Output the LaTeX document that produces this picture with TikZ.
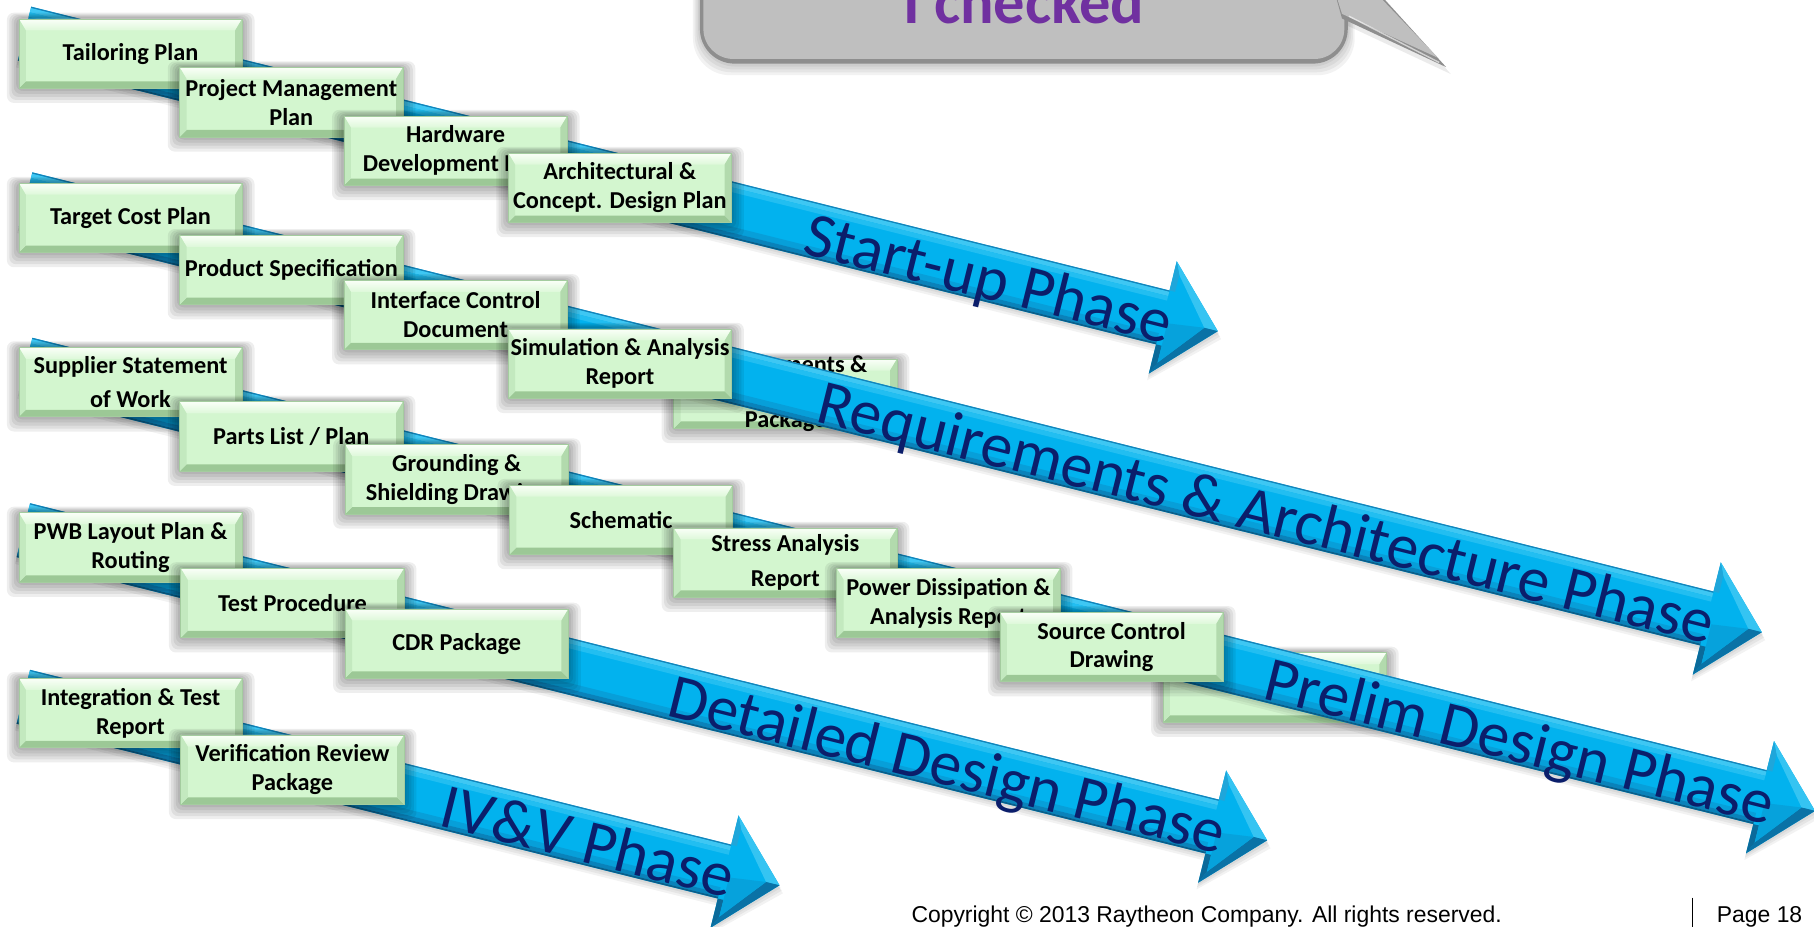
\documentclass[tikz,border=0pt]{standalone}
\usepackage{fontspec}
\setmainfont{Carlito}
\newfontfamily\arialf{Liberation Sans}
\definecolor{face}{HTML}{D3F6CF}
\definecolor{bvtopa}{HTML}{FAFFF8}
\definecolor{bvtopb}{HTML}{DDF8D9}
\definecolor{bvbot}{HTML}{9CC896}
\definecolor{bvleft}{HTML}{C3E9BF}
\definecolor{bvright}{HTML}{B2DAAD}
\definecolor{bxline}{HTML}{A4CC9F}
\definecolor{amain}{HTML}{02B2EE}
\definecolor{aedge}{HTML}{1683B8}
\definecolor{ahia}{HTML}{3EC7F3}
\definecolor{ahib}{HTML}{22BEF1}
\definecolor{alowa}{HTML}{079FD9}
\definecolor{alowb}{HTML}{0A82BA}
\definecolor{alowc}{HTML}{0B5E8A}
\definecolor{ahl}{HTML}{35C4F2}
\definecolor{adk}{HTML}{0A72A6}
\definecolor{amid}{HTML}{06A2DC}
\definecolor{abka}{HTML}{1FA6DA}
\definecolor{abkb}{HTML}{0B6A9A}
\definecolor{navy}{HTML}{0B1E6B}
\definecolor{bubble}{HTML}{BFBFBF}
\definecolor{bubbleedge}{HTML}{8E8E8E}
\definecolor{purpl}{HTML}{7030A0}

\newcommand\bevel{%
 \path (path picture bounding box.north west) coordinate (pNW)
       (path picture bounding box.north east) coordinate (pNE)
       (path picture bounding box.south west) coordinate (pSW)
       (path picture bounding box.south east) coordinate (pSE);
 \shade[top color=bvtopa, bottom color=bvtopb] (pNW) -- (pNE) -- ([shift={(-3pt,-5pt)}]pNE) -- ([shift={(3pt,-5pt)}]pNW) -- cycle;
 \fill[bvbot] (pSW) -- (pSE) -- ([shift={(-3pt,3pt)}]pSE) -- ([shift={(3pt,3pt)}]pSW) -- cycle;
 \fill[bvleft] (pNW) -- ([shift={(3pt,-5pt)}]pNW) -- ([shift={(3pt,3pt)}]pSW) -- (pSW) -- cycle;
 \fill[bvright] (pNE) -- ([shift={(-3pt,-5pt)}]pNE) -- ([shift={(-3pt,3pt)}]pSE) -- (pSE) -- cycle;
}

\newcommand\gbox[4]{%
 \foreach \k in {1,...,5}{%
   \fill[black,opacity=0.068,rounded corners=3pt] ({#2-2*\k},{#3-1.0*\k}) rectangle ({#2+193+2.2*\k},{#3+60+2.6*\k});}
 \node[gbx,anchor=north west] (#1) at (#2,#3) {#4};}

\newcommand\phasearrow[6]{%
 \begin{scope}[shift={(#2,#3)},rotate=-14]
  \foreach \k in {1,2,3}{%
   \fill[black,opacity=.05] (0,{-24+2*\k}) -- (#4,{-24+2*\k}) -- (#4,{-50+2*\k}) -- ({#4+49+1.5*\k},{2*\k}) -- (#4,{50+2*\k}) -- (#4,{24+2*\k}) -- (0,{24+2*\k}) -- cycle;}
  \fill[amain] (0,-24) -- (#4,-24) -- (#4,-50) -- ({#4+49},0) -- (#4,50) -- (#4,24) -- (0,24) -- cycle;
  \fill[aedge] (0,-24) rectangle (#4,-22.8);
  \fill[ahia] (0,-22.8) rectangle (#4,-19);
  \fill[ahib] (0,-19) rectangle (#4,-15);
  \fill[alowa] (0,14) rectangle (#4,19);
  \fill[alowb] (0,19) rectangle (#4,22.5);
  \fill[alowc] (0,22.5) rectangle (#4,24);
  \fill[ahl] (#4,-50) -- ({#4+49},0) -- ({#4+37},0) -- ({#4+5},-39) -- cycle;
  \fill[adk] ({#4+49},0) -- (#4,50) -- ({#4+5},39) -- ({#4+37},0) -- cycle;
  \fill[abka] (#4,-50) -- ({#4+5},-39) -- ({#4+5},-24) -- (#4,-24) -- cycle;
  \fill[abkb] (#4,24) -- ({#4+5},24) -- ({#4+5},39) -- (#4,50) -- cycle;
  \fill[amid] ({#4+5},4) -- ({#4+37},0) -- ({#4+5},39) -- cycle;
  \node[plabel,anchor=base,transform shape] (#1) at (#6,21.5) {#5};
 \end{scope}}

\begin{document}
\begin{tikzpicture}[x=0.5pt,y=-0.5pt,
  gbx/.style={fill=face, draw=bxline, line width=0.3pt, minimum width=96.5pt, minimum height=30pt,
    inner sep=1pt, align=center, font=\bfseries\fontsize{10.5}{12.5}\selectfont,
    path picture={\bevel}},
  boxtext/.style={align=center, font=\bfseries\fontsize{10.5}{12}\selectfont, inner sep=0pt},
  plabel/.style={font=\fontsize{27.5}{30}\selectfont, text=navy, inner sep=0pt}]
\useasboundingbox (0,0) rectangle (1568,801);
\begin{scope}
\clip (0,0) rectangle (1568,801);
\fill[white] (0,0) rectangle (1568,801);

% speech bubble
\foreach \k in {1,...,4}{%
  \fill[black,opacity=.05,rounded corners=16pt] ({605-1.5*\k},-80) rectangle ({1165+1.5*\k},{55+2.5*\k});}
\fill[black,opacity=.08] (1150,-20) -- (1180,-20) -- (1254,64) -- (1160,20) -- cycle;
\fill[bubbleedge,rounded corners=15pt] (605,-80) rectangle (1165,55);
\fill[bubble,rounded corners=13pt] (608,-80) rectangle (1162,51);
\fill[bubbleedge] (1150,-20) -- (1179,-20) -- (1250,58) -- (1160,16) -- cycle;
\fill[bubble] (1150,-20) -- (1176,-20) -- (1243,50) -- (1160,12) -- cycle;
\draw[white,opacity=.6,line width=0.6pt] (1166,14) -- (1244,54);
\node[anchor=base,font=\bfseries\fontsize{27}{30}\selectfont,text=purpl] (ichk) at (885,20) {I checked};

% Start-up phase
\phasearrow{lstart}{21.2}{29.1}{1014}{Start-up Phase}{860}
\gbox{tp}{16}{16}{Tailoring Plan}
\gbox{pmp}{155}{58}{Project Management\\Plan}
\gbox{hdp}{297}{100}{Hardware\\Development Plan}
\gbox{acd}{439}{132}{Architectural \&\\Concept. Design Plan}

% Requirements & Architecture phase
\gbox{rap}{582}{310}{}
\node[boxtext] (raptxt) at (679,340) {Requirements \&\\Architecture\\Package};
\phasearrow{lreq}{22.2}{172.3}{1497.6}{Requirements \& Architecture Phase}{1106}
\gbox{tcp}{16}{158}{Target Cost Plan}
\gbox{ps}{155}{203}{Product Specification}
\gbox{icd}{297}{242}{Interface Control\\Document}
\gbox{sar}{439}{284}{Simulation \& Analysis\\Report}

% Prelim design phase
\gbox{pdr}{1005}{564}{}
\phasearrow{lprelim}{22.2}{315.3}{1545}{Prelim Design Phase}{1332}
\gbox{ssw}{16}{300}{Supplier Statement\\[2pt]of Work}
\gbox{plp}{155}{347}{Parts List / Plan}
\gbox{gsd}{298}{384}{Grounding \&\\Shielding Drawing}
\gbox{sch}{440}{419}{Schematic}
\gbox{sta}{582}{456}{Stress Analysis\\[2.5pt]Report}
\gbox{pda}{723}{491}{Power Dissipation \&\\Analysis Report}
\gbox{scd}{864}{529}{Source Control\\Drawing}

% Detailed design phase
\phasearrow{ldet}{20.2}{458.3}{1059}{Detailed Design Phase}{824}
\gbox{pwb}{16}{443}{PWB Layout Plan \&\\Routing}
\gbox{tpr}{156}{491}{Test Procedure}
\gbox{cdr}{298}{526}{CDR Package}

% IV&V phase
\phasearrow{livv}{20.2}{602.3}{624.6}{IV\&V Phase}{504}
\gbox{itr}{16}{586}{Integration \& Test\\Report}
\gbox{vrp}{156}{635}{Verification Review\\Package}

% footer
\node[anchor=base,font=\arialf\fontsize{9.9}{12}\selectfont] (copy) at (1043,797) {Copyright © 2013 Raytheon Company. All rights reserved.};
\draw[line width=0.7pt] (1463,776) -- (1463,801);
\node[anchor=base west,font=\arialf\fontsize{9.9}{12}\selectfont] (page) at (1477,797) {Page 18};
\end{scope}
\end{tikzpicture}
\end{document}
